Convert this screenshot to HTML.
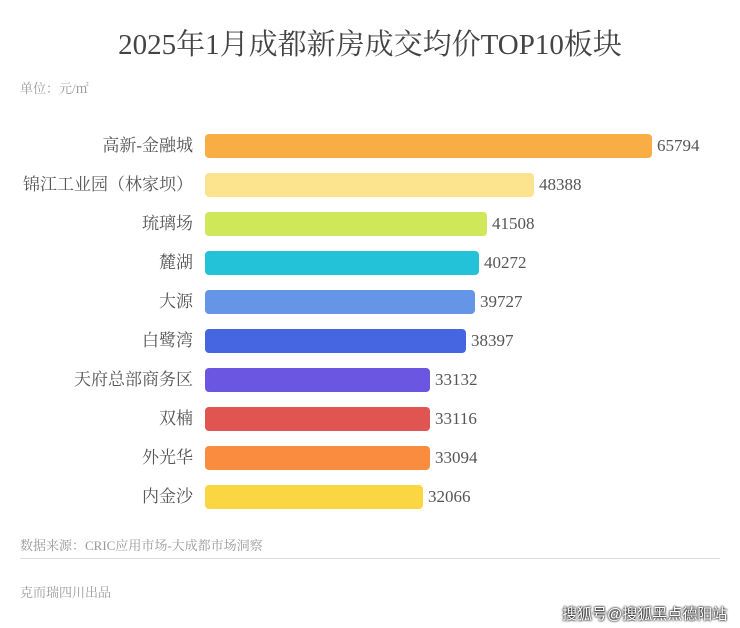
<!DOCTYPE html>
<html><head><meta charset="utf-8"><style>
body{margin:0;width:740px;height:628px;background:#fff;position:relative;overflow:hidden;font-family:"Liberation Serif","Noto Serif CJK SC",serif;}
.t{position:absolute;white-space:nowrap}
.title{left:0;width:740px;text-align:center;top:22px;font-size:29px;color:#444;}
.lab,.val{height:24px;line-height:24px;font-size:17px;color:#555}
.lab{right:547px;text-align:right}
.bar{position:absolute;left:205px;height:24px;border-radius:4px}
.small{font-size:13px;color:#999}
</style></head><body>
<div class="t title">2025年1月成都新房成交均价TOP10板块</div>
<div class="t small" style="left:20px;top:78px">单位：元/㎡</div>

<div class="t lab" style="top:134px">高新-金融城</div><div class="bar" style="top:134px;width:447px;background:#f9ae45"></div><div class="t val" style="left:657px;top:134px">65794</div>
<div class="t lab" style="top:173px">锦江工业园（林家坝）</div><div class="bar" style="top:173px;width:329px;background:#fce48e"></div><div class="t val" style="left:539px;top:173px">48388</div>
<div class="t lab" style="top:212px">琉璃场</div><div class="bar" style="top:212px;width:282px;background:#cfe85a"></div><div class="t val" style="left:492px;top:212px">41508</div>
<div class="t lab" style="top:251px">麓湖</div><div class="bar" style="top:251px;width:274px;background:#23c2d8"></div><div class="t val" style="left:484px;top:251px">40272</div>
<div class="t lab" style="top:290px">大源</div><div class="bar" style="top:290px;width:270px;background:#6595e6"></div><div class="t val" style="left:480px;top:290px">39727</div>
<div class="t lab" style="top:329px">白鹭湾</div><div class="bar" style="top:329px;width:261px;background:#4566e0"></div><div class="t val" style="left:471px;top:329px">38397</div>
<div class="t lab" style="top:368px">天府总部商务区</div><div class="bar" style="top:368px;width:225px;background:#6a56e0"></div><div class="t val" style="left:435px;top:368px">33132</div>
<div class="t lab" style="top:407px">双楠</div><div class="bar" style="top:407px;width:225px;background:#e05552"></div><div class="t val" style="left:435px;top:407px">33116</div>
<div class="t lab" style="top:446px">外光华</div><div class="bar" style="top:446px;width:225px;background:#fa8c40"></div><div class="t val" style="left:435px;top:446px">33094</div>
<div class="t lab" style="top:485px">内金沙</div><div class="bar" style="top:485px;width:218px;background:#fbd643"></div><div class="t val" style="left:428px;top:485px">32066</div>

<div class="t small" style="left:20px;top:535px">数据来源：CRIC应用市场-大成都市场洞察</div>
<div style="position:absolute;left:20px;top:558px;width:700px;height:1px;background:#ddd"></div>
<div class="t small" style="left:20px;top:582px">克而瑞四川出品</div>
<div class="t" style="left:562px;top:603px;font-size:15px;color:#fff;font-family:'Liberation Sans','Noto Sans CJK SC',sans-serif;text-shadow:0 0 2px #000,0 0 2px #000">搜狐号@搜狐黑点德阳站</div>
</body></html>
